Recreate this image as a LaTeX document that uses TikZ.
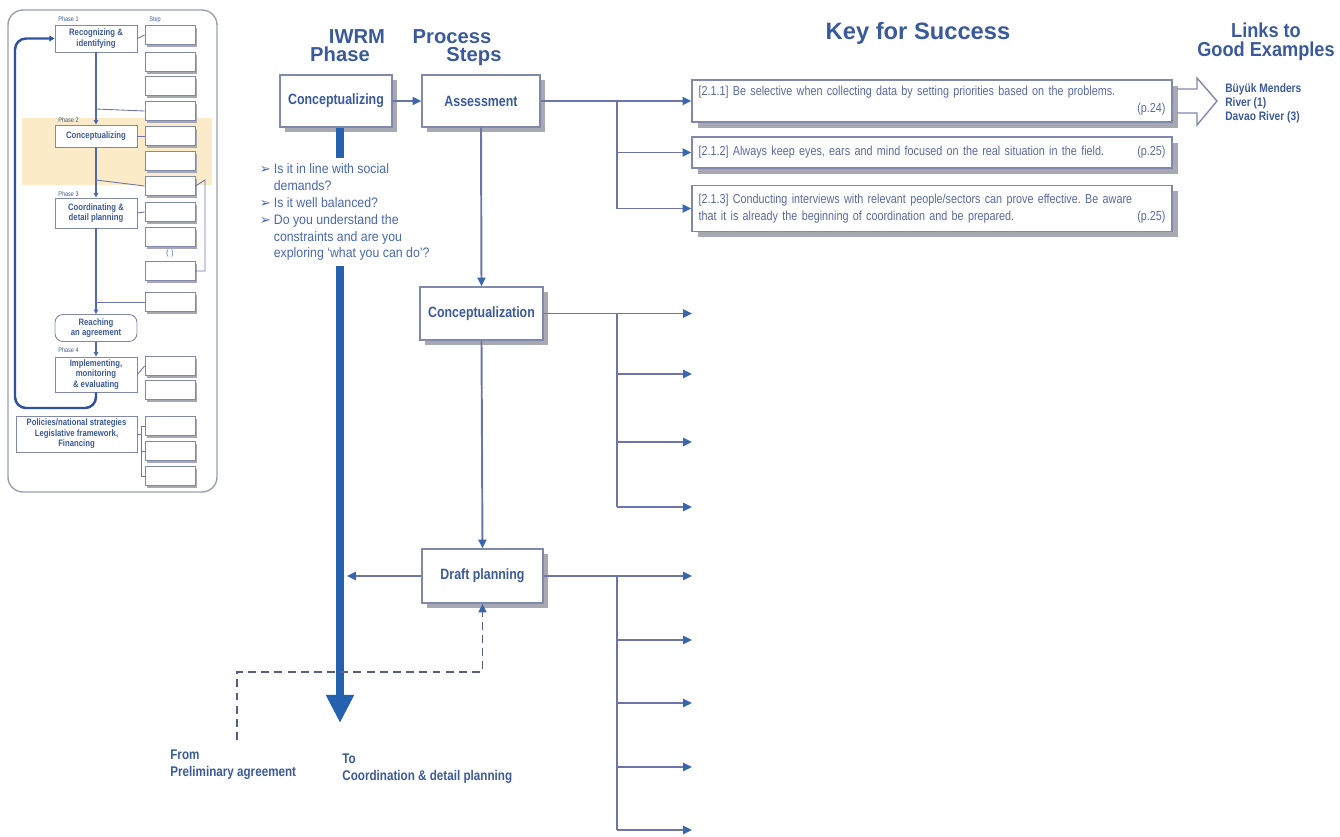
\documentclass[tikz,border=0pt]{standalone}
\usepackage{fontspec}
\setmainfont{Liberation Sans}
\newfontfamily\nrw{Liberation Sans}[FakeStretch=0.83]
\newfontfamily\nrwb{Liberation Sans}[FakeStretch=0.9]
\newfontfamily\symfont{DejaVu Sans}
\usetikzlibrary{arrows.meta,shadows}

\definecolor{ttl}{HTML}{3A5A9C}
\definecolor{boxtxt}{HTML}{3C5A9A}
\definecolor{bultxt}{HTML}{4A68B0}
\definecolor{keytxt}{HTML}{5A6AA0}
\definecolor{edgec}{HTML}{8088AC}
\definecolor{connc}{HTML}{6C74A8}
\definecolor{tipc}{HTML}{3A66B0}
\definecolor{thickc}{HTML}{2462B0}
\definecolor{shadec}{HTML}{A8A8B2}
\definecolor{bandc}{HTML}{FBEBC8}
\definecolor{framec}{HTML}{9AA0B0}
\definecolor{loopc}{HTML}{3050A0}

\newcommand{\bul}{\makebox[0.28cm][l]{\symfont\fontsize{7.5}{7.5}\selectfont ➢}}
\newcommand{\ind}{\hspace*{0.28cm}}

\begin{document}
\frenchspacing
\begin{tikzpicture}[x=0.02cm,y=-0.02cm,
  hdr/.style={text=ttl, font=\bfseries\fontsize{11.5}{13}\selectfont, inner sep=0},
  stepbox/.style={draw=edgec, fill=white, line width=0.8pt,
    drop shadow={shadow xshift=3pt, shadow yshift=-3pt, fill=shadec, opacity=1},
    text=boxtxt, font=\nrw\bfseries\fontsize{8.5}{10}\selectfont},
  keybox/.style={draw=edgec, fill=white, line width=0.8pt,
    drop shadow={shadow xshift=3.2pt, shadow yshift=-3.2pt, fill=shadec, opacity=1},
    text=keytxt, font=\nrw\fontsize{7.4}{9.8}\selectfont,
    text width=9.34cm, inner xsep=0.08cm, inner ysep=1pt, minimum width=9.6cm, align=left},
  connline/.style={draw=connc, line width=1.1pt},
  conn/.style={connline, -{Triangle[length=5pt,width=4.6pt,color=tipc]}},
  dashconn/.style={draw=connc!80!black, line width=1.1pt, dash pattern=on 4.5pt off 3pt,
    -{Triangle[length=5pt,width=4.6pt,color=tipc]}},
  thickarrow/.style={draw=thickc, line width=4pt, -{Triangle[length=16pt,width=15pt,color=thickc]}},
  lbl/.style={text=boxtxt, font=\nrw\bfseries\fontsize{8}{10.2}\selectfont, inner sep=0, align=left},
  phasebox/.style={draw=edgec, fill=white, line width=0.5pt, text=boxtxt, align=center,
    font=\nrw\bfseries\fontsize{5.3}{6}\selectfont, inner sep=0, minimum width=1.64cm},
  minibox/.style={draw=edgec, fill=white, line width=0.5pt, minimum width=1.0cm, minimum height=0.38cm,
    drop shadow={shadow xshift=1.3pt, shadow yshift=-1.3pt, fill=shadec, opacity=1}},
  minitag/.style={text=boxtxt, font=\nrw\fontsize{3.8}{4}\selectfont, inner sep=0, anchor=base west},
  miniflow/.style={draw=loopc!85!white, line width=1pt, -{Triangle[length=2.6pt,width=2.6pt]}},
  miniline/.style={draw=connc, line width=0.5pt}
]
\useasboundingbox (0,0) rectangle (1340,836);

% ---------- overview panel ----------
\fill[bandc] (22,118) rectangle (212,185);
\draw[framec, line width=0.8pt, rounded corners=0.3cm] (8,10) rectangle (217,492);

\foreach \yc [count=\i] in {35,62,86,111,136,161,186,212,237,271,302,366,390,426,451,476}
  \node[minibox] (s\i) at (170,\yc) {};

\node[phasebox, minimum height=0.54cm] (p1) at (96,38.5) {Recognizing \&\\identifying};
\node[phasebox, minimum height=0.44cm] (p2) at (96,136) {Conceptualizing};
\node[phasebox, minimum height=0.6cm] (p3) at (96,213) {Coordinating \&\\detail planning};
\node[phasebox, minimum height=0.54cm, rounded corners=0.16cm] (ag) at (96,328) {Reaching\\an agreement};
\node[phasebox, minimum height=0.7cm] (p4) at (96,374.5) {Implementing,\\monitoring\\\& evaluating};
\node[phasebox, minimum width=2.42cm, minimum height=0.72cm] (pol) at (76.5,434)
  {Policies/national strategies\\Legislative framework,\\Financing};

\node[minitag] (t1) at (58,21) {Phase 1};
\node[minitag] (t2) at (58,122) {Phase 2};
\node[minitag] (t3) at (58,196) {Phase 3};
\node[minitag] (t4) at (58,352) {Phase 4};
\node[minitag] (tst) at (149,21) {Step};
\node[text=boxtxt, font=\nrw\fontsize{4.5}{5}\selectfont, inner sep=0] (par) at (170,253) {(\hspace{1.6pt})};

\draw[miniflow] (p1.south) -- (p2.north);
\draw[miniflow] (p2.south) -- (p3.north);
\draw[miniflow] (p3.south) -- (ag.north);
\draw[miniflow] (ag.south) -- (p4.north);
\draw[draw=loopc, line width=1.4pt, rounded corners=0.22cm, -{Triangle[length=3pt,width=3.2pt]}]
  (p4.south) -- (96,408) -- (15,408) -- (15,38.5) -- (p1.west);

\draw[miniline] (96,109) -- (s4.west);
\draw[miniline] (96,180) -- (s7.west);
\draw[miniline] (96,302) -- (s11.west);
\draw[miniline] (s10.east) -- (205,271) -- (205,180) -- (s7.east);
\draw[miniline] (p1.east) -- (s1.west);
\draw[miniline] (p2.east) -- (s5.west);
\draw[miniline] (p3.east) -- (s8.west);
\draw[miniline] (p4.east) -- (s12.west);
\draw[miniline] (pol.east) -- (141,434);
\draw[miniline] (s14.west) -| (141,476) -- (s16.west);
\draw[miniline] (141,451) -- (s15.west);

% ---------- headings ----------
\node[hdr, anchor=base] (hiwrm) at (357,43) {IWRM};
\node[hdr, anchor=base] (hphase) at (340,61) {Phase};
\node[hdr, anchor=base] (hproc) at (452,43) {Process};
\node[hdr, anchor=base] (hsteps) at (474,61) {Steps};
\node[hdr, anchor=base, font=\bfseries\fontsize{13.5}{15}\selectfont] (hkey) at (918,39) {Key for Success};
\node[hdr, align=center, font=\nrwb\bfseries\fontsize{11.5}{11}\selectfont] (hlinks) at (1266,42) {Links to\\Good Examples};

% ---------- process column ----------
\node[stepbox, minimum width=2.24cm, minimum height=1.04cm] (cp) at (336,101) {Conceptualizing};
\node[stepbox, minimum width=2.36cm, minimum height=1.04cm] (as) at (481,101) {Assessment};
\node[stepbox, minimum width=2.46cm, minimum height=1.06cm] (cz) at (481.5,313.5) {Conceptualization};
\node[stepbox, minimum width=2.42cm, minimum height=1.08cm] (dr) at (482.5,576) {Draft planning};

\coordinate (tk) at (340,723);
\draw[thickarrow] (cp.south -| tk) -- (tk);

\node[anchor=north west, fill=white, inner xsep=2pt, inner ysep=3pt, text=bultxt,
  font=\nrwb\fontsize{7.8}{9.6}\selectfont, align=left] (qs) at (256,158)
  {\bul Is it in line with social\\
   \ind demands?\\
   \bul Is it well balanced?\\
   \bul Do you understand the\\
   \ind constraints and are you\\
   \ind exploring ‘what you can do’?};

\draw[conn] (cp.east) -- (as.west);
\draw[conn] (as.south) -- (cz.north);
\draw[conn] (cz.south) -- (dr.north);
\coordinate (lt) at (347,576);
\draw[conn] (dr.west) -- (lt);

% ---------- keys for success ----------
\node[keybox, minimum height=0.84cm] (k1) at (932,101)
  {[2.1.1] Be selective when collecting data by setting priorities based on the problems.\par\hspace*{\fill}(p.24)};
\node[keybox, minimum height=0.62cm] (k2) at (932,152.5)
  {[2.1.2] Always keep eyes, ears and mind focused on the real situation in the field.\hfill(p.25)};
\node[keybox, minimum height=0.92cm] (k3) at (932,208.5)
  {[2.1.3] Conducting interviews with relevant people/sectors can prove effective. Be aware\\that it is already the beginning of coordination and be prepared.\hfill(p.25)};

\draw[conn] (as.east) -- (k1.west);
\coordinate (ja) at (617,101);
\draw[connline] (ja) -- (ja |- k3.west);
\draw[conn] (ja |- k2.west) -- (k2.west);
\draw[conn] (ja |- k3.west) -- (k3.west);

% open-ended branches
\coordinate (c1) at (692,313.5);
\coordinate (c2) at (692,374);
\coordinate (c3) at (692,442);
\coordinate (c4) at (692,507);
\coordinate (jb) at (617,313.5);
\draw[conn] (cz.east) -- (c1);
\draw[connline] (jb) -- (jb |- c4);
\foreach \c in {c2,c3,c4} \draw[conn] (jb |- \c) -- (\c);

\coordinate (d1) at (692,576);
\coordinate (d2) at (692,640);
\coordinate (d3) at (692,703);
\coordinate (d4) at (692,767);
\coordinate (d5) at (692,830);
\coordinate (jc) at (617,576);
\draw[conn] (dr.east) -- (d1);
\draw[connline] (jc) -- (jc |- d5);
\foreach \c in {d2,d3,d4,d5} \draw[conn] (jc |- \c) -- (\c);

% ---------- links to examples ----------
\draw[edgec, line width=0.8pt, line join=miter]
  (1177,89) -- (1197,89) -- (1197,78) -- (1217,101) -- (1197,125) -- (1197,113) -- (1177,113);
\node[anchor=north west, inner sep=0, text=boxtxt, align=left,
  font=\nrw\bfseries\fontsize{7}{7.9}\selectfont] (ex) at (1225,83)
  {Büyük Menders\\River (1)\\Davao River (3)};

% ---------- from / to ----------
\coordinate (fs) at (237,740);
\coordinate (dt) at (237,672);
\draw[dashconn] (fs) -- (dt) -- (dt -| dr.south) -- (dr.south);

\node[lbl, anchor=north west] (from) at (170,749) {From\\Preliminary agreement};
\node[lbl, anchor=north west] (to) at (342,753) {To\\Coordination \& detail planning};
\end{tikzpicture}
\end{document}
